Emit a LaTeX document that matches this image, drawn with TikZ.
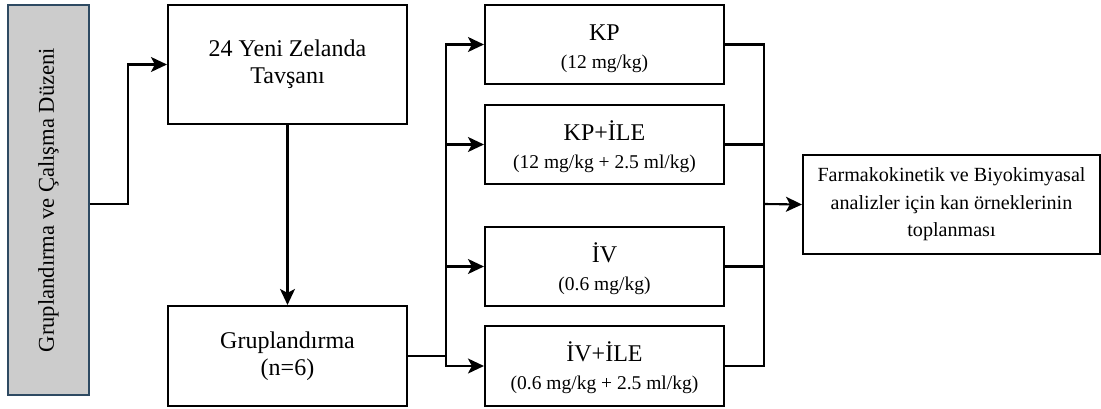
\documentclass[tikz,border=0pt]{standalone}
\usepackage{fontspec}
\setmainfont{Liberation Serif}
\usetikzlibrary{arrows.meta}
\definecolor{sidefill}{HTML}{CCCCCC}
\definecolor{sidedraw}{HTML}{2E4A62}
\begin{document}
\begin{tikzpicture}[x=1pt,y=-1pt,
  box/.style={draw=black,line width=2.1pt,minimum width=239pt,align=center,inner sep=0pt},
  bigtxt/.style={font=\fontsize{24}{27}\selectfont},
  twoline/.style={box,minimum height=79pt,font=\fontsize{24}{28}\selectfont},
  conn/.style={line width=2.1pt,line join=miter},
  arr/.style={conn,-{Stealth[length=16pt,width=15pt,inset=4pt]}}]
\newcommand\subtx[1]{{\fontsize{19.5}{28}\selectfont #1}}
\newcommand\toprule{\rule{0pt}{23.3pt}}
\useasboundingbox (0,0) rectangle (1101,409);
\node[draw=sidedraw,fill=sidefill,line width=1.6pt,minimum width=81pt,minimum height=390pt,inner sep=0pt] (L) at (48.5,200) {};
\node[rotate=90,font=\fontsize{22.6}{27}\selectfont] (Lt) at (L.center) {Gruplandırma ve Çalışma Düzeni};
\node[box,minimum height=119pt,bigtxt] (A) at (287.5,64.5) {24 Yeni Zelanda\\Tavşanı};
\node[box,minimum height=100pt,bigtxt] (G) at (287.5,356) {Gruplandırma\\(n=6)};
\node[twoline] (K1) at (604.5,44.5) {\toprule KP\\\subtx{(12 mg/kg)}};
\node[twoline] (K2) at (604.5,144.5) {\toprule KP+İLE\\\subtx{(12 mg/kg + 2.5 ml/kg)}};
\node[twoline] (K3) at (604.5,266.5) {\toprule İV\\\subtx{(0.6 mg/kg)}};
\node[twoline,minimum height=80pt] (K4) at (604.5,366) {\toprule İV+İLE\\\subtx{(0.6 mg/kg + 2.5 ml/kg)}};
\node[box,minimum width=297pt,minimum height=99pt,font=\fontsize{20.1}{27.5}\selectfont] (R) at (951.5,204.5) {Farmakokinetik ve Biyokimyasal\\analizler için kan örneklerinin\\toplanması};
\coordinate (lb) at (128,204);
\coordinate (sp) at (446,356);
\coordinate (mg) at (764,204);
\draw[arr] (L.east|-lb) -- (lb) |- (A.west);
\draw[arr] (A.south) -- (G.north);
\draw[conn] (G.east) -- (sp);
\draw[arr] (sp) |- (K1.west);
\draw[arr] (sp) |- (K2.west);
\draw[arr] (sp) |- (K3.west);
\draw[arr] (sp) |- (K4.west);
\draw[conn] (K1.east) -| (mg);
\draw[conn] (K2.east) -| (mg);
\draw[conn] (K3.east) -| (mg);
\draw[conn] (K4.east) -| (mg);
\draw[arr] (mg) -- (R.west);
\end{tikzpicture}
\end{document}
